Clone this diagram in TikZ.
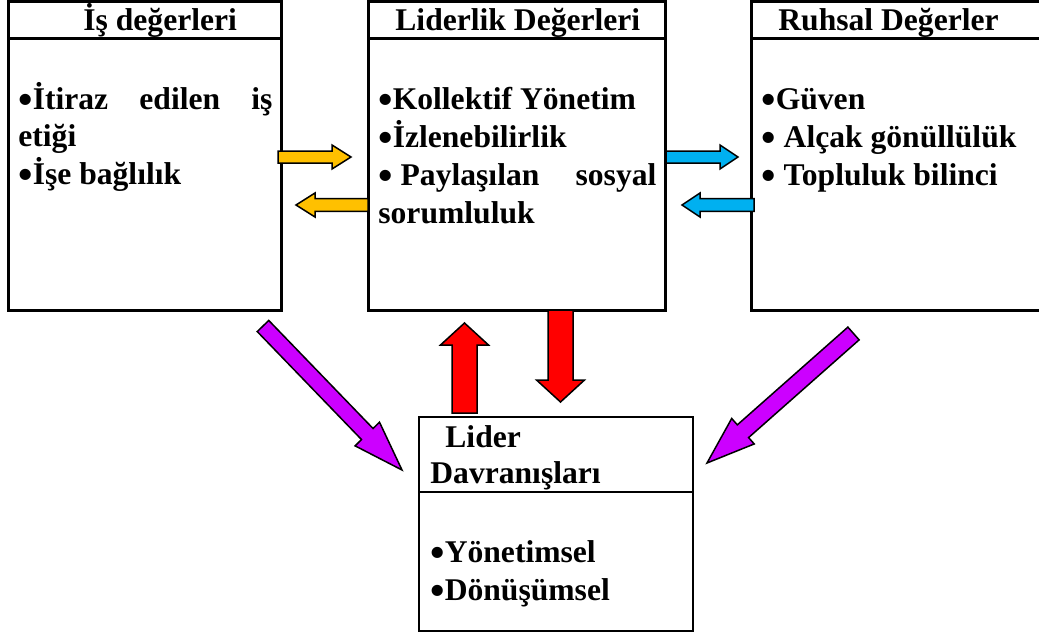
\documentclass[tikz,border=0pt]{standalone}
\usepackage{fontspec}
\setmainfont{Liberation Serif}
\usepackage{xcolor}
\usepackage{graphicx}
\usetikzlibrary{calc}

\definecolor{arrowyellow}{HTML}{FFC000}
\definecolor{arrowblue}{HTML}{00B0F0}
\definecolor{arrowred}{HTML}{FF0000}
\definecolor{arrowpurple}{HTML}{CC00FF}

\newcommand{\itembullet}{\raisebox{-0.3ex}{\scalebox{1.3}{\textbullet}}}

% [style]{from}{to}{shaft half width}{head half width}{head length}
\newcommand{\blockarrow}[6][]{%
  \coordinate (bah) at ($(#3)!#6!(#2)$);
  \draw[barrow,#1] ($(#2)!#4!90:(#3)$) -- ($(bah)!#4!-90:(#2)$) -- ($(bah)!#5!-90:(#2)$) -- (#3)
    -- ($(bah)!#5!90:(#2)$) -- ($(bah)!#4!90:(#2)$) -- ($(#2)!#4!-90:(#3)$) -- cycle;}

\begin{document}
\begin{tikzpicture}[x=0.5pt,y=-0.5pt,
  box/.style={draw,line width=1.5pt},
  lbl/.style={anchor=base west,inner sep=0pt,font=\fontsize{15.8}{18.8}\selectfont\bfseries},
  barrow/.style={draw=black,line width=0.75pt,line join=miter}]

\useasboundingbox (0,0) rectangle (1039,637);
\clip (0,0) rectangle (1039,637);

% the three value boxes
\draw[box] (8,1) rectangle (281,310);
\draw[box] (8,38) -- (281,38);
\draw[box] (368,1) rectangle (665,310);
\draw[box] (368,38) -- (665,38);
\draw[box] (751,1) rectangle (1060,310);
\draw[box] (751,38) -- (1060,38);

% leader behaviour box
\draw[box,line width=1pt] (419,417) rectangle (693,631);
\draw[box,line width=1pt] (419,492) -- (693,492);

% headers
\node[lbl] (is-head) at (83,30) {İş değerleri};
\node[lbl] (lid-head) at (395,30) {Liderlik Değerleri};
\node[lbl] (ruh-head) at (778,30) {Ruhsal Değerler};
\node[lbl] (dav-head1) at (445,447) {Lider};
\node[lbl] (dav-head2) at (430,483) {Davranışları};

% items
\node[lbl] (is-1) at (18,109) {\makebox[127pt][s]{\itembullet İtiraz edilen iş}};
\node[lbl] (is-2) at (18,146) {etiği};
\node[lbl] (is-3) at (18,184) {\itembullet İşe bağlılık};

\node[lbl] (lid-1) at (378,109) {\itembullet Kollektif Yönetim};
\node[lbl] (lid-2) at (378,147) {\itembullet İzlenebilirlik};
\node[lbl] (lid-3) at (378,185) {\makebox[139pt][s]{\itembullet\kern0.25em Paylaşılan sosyal}};
\node[lbl] (lid-4) at (378,223) {sorumluluk};

\node[lbl] (ruh-1) at (761,109) {\itembullet Güven};
\node[lbl] (ruh-2) at (761,147) {\itembullet\kern0.25em Alçak gönüllülük};
\node[lbl] (ruh-3) at (761,185) {\itembullet\kern0.25em Topluluk bilinci};

\node[lbl] (dav-1) at (430,562) {\itembullet Yönetimsel};
\node[lbl] (dav-2) at (430,600) {\itembullet Dönüşümsel};

% arrow end points
\coordinate (yr-s) at (278,157);
\coordinate (yr-e) at (351,157);
\coordinate (yl-s) at (368,205);
\coordinate (yl-e) at (296,205);
\coordinate (br-s) at (666,157);
\coordinate (br-e) at (738,157);
\coordinate (bl-s) at (754,205);
\coordinate (bl-e) at (682,205);
\coordinate (ru-s) at (464.5,413);
\coordinate (ru-e) at (464.5,323);
\coordinate (rd-s) at (560.5,310);
\coordinate (rd-e) at (560.5,402);
\coordinate (pl-s) at (263,326);
\coordinate (pl-e) at (402,470);
\coordinate (pr-s) at (853.5,333.5);
\coordinate (pr-e) at (707,463);

\blockarrow[fill=arrowyellow]{yr-s}{yr-e}{3pt}{6pt}{9.5pt}
\blockarrow[fill=arrowyellow]{yl-s}{yl-e}{3.2pt}{6pt}{9.5pt}
\blockarrow[fill=arrowblue]{br-s}{br-e}{3pt}{6pt}{9pt}
\blockarrow[fill=arrowblue]{bl-s}{bl-e}{3.2pt}{6pt}{9pt}
\blockarrow[fill=arrowred]{ru-s}{ru-e}{6.25pt}{12pt}{11pt}
\blockarrow[fill=arrowred]{rd-s}{rd-e}{6.25pt}{12pt}{11pt}
\blockarrow[fill=arrowpurple]{pl-s}{pl-e}{4pt}{8.5pt}{25pt}
\blockarrow[fill=arrowpurple]{pr-s}{pr-e}{4.25pt}{8.5pt}{24pt}

\end{tikzpicture}
\end{document}
